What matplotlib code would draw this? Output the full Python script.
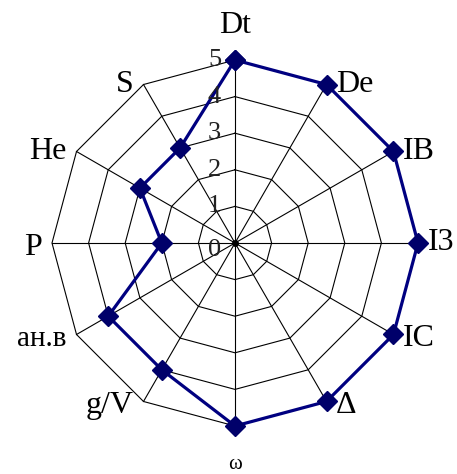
import numpy as np
import matplotlib
matplotlib.use("Agg")
import matplotlib.pyplot as plt

categories = ["Dt", "De", "IB", "I3", "IC", "Δ", "ω", "g/V", "aн.в", "P", "He", "S"]
values = [5, 5, 5, 5, 5, 5, 5, 4, 4, 2, 3, 3]
ring_levels = [0, 1, 2, 3, 4, 5]

W, H = 457, 474
DPI = 100
fig = plt.figure(figsize=(W / DPI, H / DPI), dpi=DPI)
ax = fig.add_axes([0, 0, 1, 1])
unit = 36.6  # px per value unit
cx, cy = 235, 243
ax.set_xlim(-cx / unit, (W - cx) / unit)
ax.set_ylim(-(H - cy) / unit, cy / unit)
ax.axis("off")

n = len(categories)
theta = np.arange(n) * 2 * np.pi / n
rmax = max(ring_levels)

def xy(r, t):
    return np.asarray(r) * np.sin(t), np.asarray(r) * np.cos(t)

# rings
tc = np.append(theta, theta[0])
for lv in ring_levels[1:]:
    x, y = xy(np.full(len(tc), lv), tc)
    ax.plot(x, y, color="black", lw=0.8, zorder=1)
# spokes
for t in theta:
    x, y = xy([0, rmax], [t, t])
    ax.plot(x, y, color="black", lw=0.8, zorder=1)
ax.plot([0], [0], "o", color="black", ms=4, zorder=2)

# data
vc = np.append(values, values[0])
x, y = xy(vc, tc)
ax.plot(x, y, color="#000080", lw=2.3, marker="D", ms=10, mfc="#00006a", mec="#00006a", zorder=3)

# tick labels
for lv in ring_levels:
    ax.annotate(str(lv), (0, lv), xytext=(-10, -5 if lv == 0 else 0), textcoords="offset points",
                ha="right", va="center", fontsize=19, family="Liberation Serif", color="#222222")

# category labels
for cat, t in zip(categories, theta):
    px, py = xy(rmax, t)
    s = np.sin(t)
    c = np.cos(t)
    fs = 23
    if abs(s) < 1e-6:
        if c > 0:
            off, ha, va = (0, 25), "center", "center"
        else:
            off, ha, va = (0, -28), "center", "center"
            fs = 15
    elif s > 0:
        off, ha, va = (7, -3 if c < 0 else 0), "left", "center"
    else:
        off, ha, va = (-7, -3 if c < 0 else 0), "right", "center"
    if cat == "aн.в":
        fs = 21
    ax.annotate(cat, (px, py), xytext=off, textcoords="offset points", ha=ha, va=va,
                fontsize=fs, family="Liberation Serif", color="black")

fig.savefig("out.png", dpi=DPI)
